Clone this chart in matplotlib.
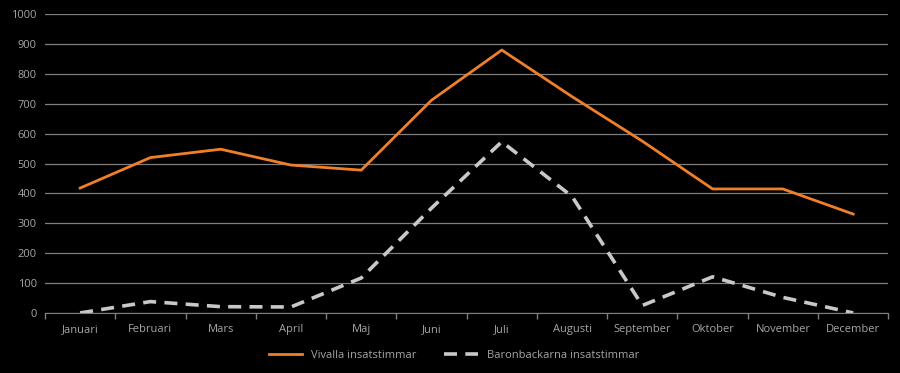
import numpy as np
import matplotlib
matplotlib.use('Agg')
import matplotlib.pyplot as plt
import matplotlib.ticker as mticker

months = ['Januari', 'Februari', 'Mars', 'April', 'Maj', 'Juni',
          'Juli', 'Augusti', 'September', 'Oktober', 'November', 'December']
vivalla = [418, 520, 548, 495, 478, 712, 880, 724, 575, 415, 415, 331]
baronbackarna = [0, 38, 21, 20, 117, 351, 573, 390, 25, 121, 52, 0]

plt.rcParams['font.family'] = ['Open Sans', 'DejaVu Sans']

fig = plt.figure(figsize=(9, 3.73), dpi=100, facecolor='black')
ax = fig.add_axes([0.05, 0.161, 0.937, 0.801], facecolor='black')

x = np.arange(len(months))
ax.plot(x, vivalla, color='#f07f2a', linewidth=2.0, label='Vivalla insatstimmar')
ax.plot(x, baronbackarna, color='#c8c8c8', linewidth=2.6, linestyle=(0, (3.6, 2.3)),
        label='Baronbackarna insatstimmar')

ax.set_ylim(0, 1000)
ax.set_xlim(-0.5, 11.5)
ax.yaxis.set_major_locator(mticker.MultipleLocator(100))
ax.grid(axis='y', color='#7f7f7f', linewidth=0.9)
ax.set_axisbelow(True)

ax.set_xticks(x)
ax.set_xticklabels(months)
ax.xaxis.set_minor_locator(mticker.FixedLocator(np.arange(-0.5, 12, 1)))
ax.tick_params(axis='x', which='major', length=0, pad=8, labelsize=8, labelcolor='#a6a6a6')
ax.tick_params(axis='x', which='minor', length=4, color='#7f7f7f', width=1)
ax.tick_params(axis='y', length=0, pad=6, labelsize=8, labelcolor='#a6a6a6')

for s in ['top', 'right', 'left']:
    ax.spines[s].set_visible(False)
ax.spines['bottom'].set_color('#7f7f7f')

leg = ax.legend(loc='upper center', bbox_to_anchor=(0.485, -0.09), ncol=2, frameon=False,
                fontsize=8, handlelength=3, columnspacing=2.5)
for t in leg.get_texts():
    t.set_color('#a6a6a6')

fig.savefig('out.png', dpi=100, facecolor='black')
